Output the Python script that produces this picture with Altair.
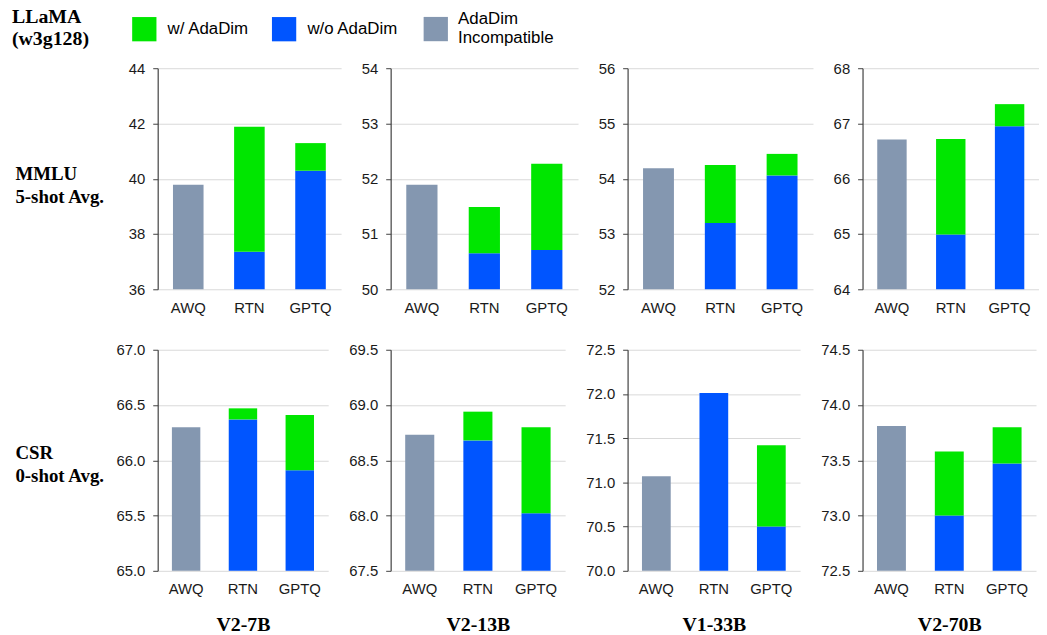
import altair as alt
import pandas as pd

models = ["V2-7B", "V2-13B", "V1-33B", "V2-70B"]
methods = ["AWQ", "RTN", "GPTQ"]
ada_names = ["w/ AdaDim", "w/o AdaDim"]
ada_colors = ["#00E600", "#0055FF"]
incompat_names = ["AdaDim Incompatible"]
incompat_colors = ["#8497B0"]

row_labels = [["MMLU", "5-shot Avg."], ["CSR", "0-shot Avg."]]
figure_label = ["LLaMA", "(w3g128)"]

# MMLU 5-shot average
mmlu_ticks = [[36, 38, 40, 42, 44], [50, 51, 52, 53, 54], [52, 53, 54, 55, 56], [64, 65, 66, 67, 68]]
mmlu_awq = [39.78, 51.89, 54.19, 66.71]
mmlu_rtn_base = [37.36, 50.65, 53.20, 64.99]
mmlu_rtn_ada = [41.88, 51.49, 54.25, 66.72]
mmlu_gptq_base = [40.29, 50.71, 54.06, 66.95]
mmlu_gptq_ada = [41.29, 52.27, 54.45, 67.35]

# CSR 0-shot average
csr_ticks = [[65.0, 65.5, 66.0, 66.5, 67.0], [67.5, 68.0, 68.5, 69.0, 69.5],
             [70.0, 70.5, 71.0, 71.5, 72.0, 72.5], [72.5, 73.0, 73.5, 74.0, 74.5]]
csr_awq = [66.30, 68.73, 71.07, 73.81]
csr_rtn_base = [66.37, 68.68, 72.01, 73.00]
csr_rtn_ada = [66.47, 68.94, None, 73.58]
csr_gptq_base = [65.91, 68.02, 70.50, 73.47]
csr_gptq_ada = [66.41, 68.80, 71.42, 73.80]

rows_spec = [
    dict(ticks=mmlu_ticks, awq=mmlu_awq, rtn_b=mmlu_rtn_base, rtn_a=mmlu_rtn_ada,
         gptq_b=mmlu_gptq_base, gptq_a=mmlu_gptq_ada, fmt="d",
         widths=[185, 189, 187, 178], spacing=50, title_y=97),
    dict(ticks=csr_ticks, awq=csr_awq, rtn_b=csr_rtn_base, rtn_a=csr_rtn_ada,
         gptq_b=csr_gptq_base, gptq_a=csr_gptq_ada, fmt=".1f",
         widths=[172, 176, 174, 175], spacing=63, title_y=95),
]

PANEL_H = 223
SANS = "Liberation Sans"
SERIF = "Liberation Serif"


def panel_dfs(spec, i):
    lo = spec["ticks"][i][0]
    incompat = pd.DataFrame([dict(method="AWQ", series="AdaDim Incompatible", lo=lo, hi=spec["awq"][i])])
    recs = [
        dict(method="RTN", series="w/o AdaDim", lo=lo, hi=spec["rtn_b"][i]),
        dict(method="GPTQ", series="w/o AdaDim", lo=lo, hi=spec["gptq_b"][i]),
    ]
    if spec["rtn_a"][i] is not None:
        recs.append(dict(method="RTN", series="w/ AdaDim", lo=spec["rtn_b"][i], hi=spec["rtn_a"][i]))
    if spec["gptq_a"][i] is not None:
        recs.append(dict(method="GPTQ", series="w/ AdaDim", lo=spec["gptq_b"][i], hi=spec["gptq_a"][i]))
    return incompat, pd.DataFrame(recs)


def make_panel(r, i):
    spec = rows_spec[r]
    ticks = spec["ticks"][i]
    df_inc, df_ada = panel_dfs(spec, i)
    y_axis_kw = dict(
        values=ticks, format=spec["fmt"], grid=True, gridColor="#D9D9D9", gridWidth=1,
        domainColor="#404040", domainWidth=1.2, tickColor="#404040", tickSize=5,
        labelFont=SANS, labelFontSize=15, labelColor="#1a1a1a", labelPadding=8,
    )
    if i == 0:
        y_axis_kw.update(titleAngle=0, titleAlign="left", titleBaseline="top",
                         titleX=-144, titleY=spec["title_y"], titleFont=SERIF,
                         titleFontSize=19, titleFontWeight="bold", titleLineHeight=23,
                         titleColor="#000000")
        y_title = row_labels[r]
    else:
        y_title = None
    x_axis_kw = dict(domain=False, ticks=False, labelAngle=0, labelFont=SANS,
                     labelFontSize=15, labelColor="#1a1a1a", labelPadding=11)
    if r == 1:
        x_axis_kw.update(titleFont=SERIF, titleFontSize=20, titleFontWeight="bold",
                         titleColor="#000000", titlePadding=18)
        x_title = models[i]
    else:
        x_title = None
    x_enc = alt.X("method:N", sort=methods, title=x_title,
                  scale=alt.Scale(paddingInner=0.5, paddingOuter=0.25),
                  axis=alt.Axis(**x_axis_kw))
    y_enc = alt.Y("hi:Q", title=y_title,
                  scale=alt.Scale(domain=[ticks[0], ticks[-1]], zero=False, nice=False),
                  axis=alt.Axis(**y_axis_kw))
    inc_layer = alt.Chart(df_inc).mark_bar().encode(
        x=x_enc, y=y_enc, y2="lo:Q",
        fill=alt.Fill("series:N", scale=alt.Scale(domain=incompat_names, range=incompat_colors),
                      legend=alt.Legend(
                          title=None, orient="none", legendX=268, legendY=-52,
                          symbolType="square", symbolSize=600, symbolStrokeWidth=0,
                          symbolOpacity=1, labelFont=SANS, labelFontSize=17,
                          labelColor="#000000", labelOffset=10, labelLimit=300,
                          labelBaseline="line-bottom",
                          labelExpr="['AdaDim', 'Incompatible']",
                      )),
    )
    ada_layer = alt.Chart(df_ada).mark_bar().encode(
        x=x_enc, y=y_enc, y2="lo:Q",
        color=alt.Color("series:N", scale=alt.Scale(domain=ada_names, range=ada_colors),
                        legend=alt.Legend(
                            title=figure_label, titleOrient="left", titleAnchor="start",
                            titleBaseline="middle", titleFont=SERIF, titleFontSize=20,
                            titleFontWeight="bold", titleLineHeight=23, titleColor="#000000",
                            titlePadding=43, titleLimit=300,
                            orient="none", legendX=-147, legendY=-52, direction="horizontal",
                            symbolType="square", symbolSize=600, symbolStrokeWidth=0,
                            symbolOpacity=1, labelFont=SANS, labelFontSize=17,
                            labelColor="#000000", labelOffset=11, columnPadding=22,
                            labelLimit=300,
                        )),
    )
    return alt.layer(inc_layer, ada_layer).properties(width=spec["widths"][i], height=PANEL_H)


rows = []
for r in range(2):
    rows.append(alt.hconcat(*[make_panel(r, i) for i in range(4)],
                            spacing=rows_spec[r]["spacing"], bounds="flush"))

chart = alt.vconcat(*rows, spacing=28).resolve_scale(
    color="shared", fill="shared").resolve_legend(color="shared", fill="shared").properties(
    padding={"left": 4, "top": 6, "right": 0, "bottom": 0},
).configure_view(stroke=None)

chart.save("out.html", embed_options={"renderer": "svg", "actions": False})
